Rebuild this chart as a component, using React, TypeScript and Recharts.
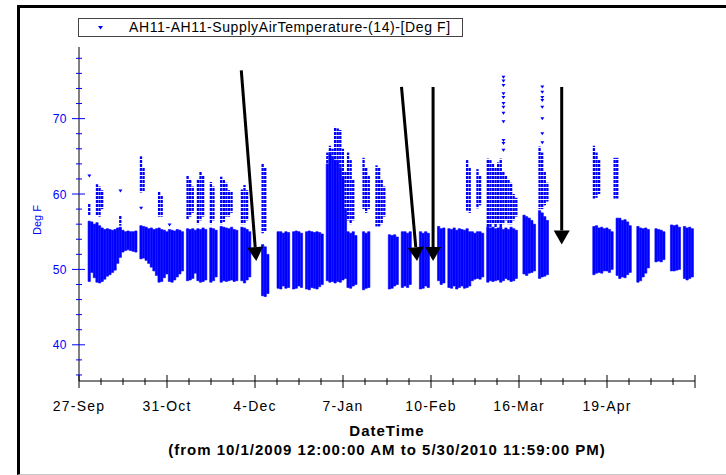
import React from 'react'
import {
  ComposedChart, Bar, Scatter, XAxis, YAxis, ReferenceLine, Legend,
} from 'recharts'

const BLUE = '#0000ff'
const FONT = '"Liberation Sans", Arial, sans-serif'

// x is counted in days from 27-Sep-2009, one label every 34 days
const tickLabels = ['27-Sep', '31-Oct', '4-Dec', '7-Jan', '10-Feb', '16-Mar', '19-Apr']
const X_MAX = 238
const Y_MIN = 35.2
const Y_MAX = 79.5

// daily range of the dense readings, starting 1-Oct (day 4); null = no data that day
const firstDay = 4
const bandLow = [
  48.4, 49.6, 48.9, 48.3, 48.2, 48.4, 48.7, 49.1, 49.3, 49.6,
  49.9, 50.8, 51.6, 52.3, 52.5, 52.6, 52.5, 52.4, 52.3, null,
  51.4, 51.5, 51.2, 50.8, 50.3, 49.8, 49.2, 48.3, 48.4, 48.9,
  49.4, 48.4, 48.3, 48.6, 49.0, 49.4, 49.8, null, 48.5, 48.6,
  48.8, 49.5, 48.5, 48.3, 48.4, 48.6, null, 48.3, 48.5, 49.0,
  null, 48.3, 48.5, 48.4, 48.5, 48.6, 48.4, 48.5, null, 48.5,
  48.2, 48.6, 49.0, null, null, null, null, 46.5, 46.4, 46.8,
  null, null, null, 47.5, 47.4, 47.8, 47.5, 47.6, null, 47.4,
  47.5, 47.8, 47.6, null, 47.4, 47.3, 47.6, 47.5, 47.4, 47.7,
  48.0, null, 48.5, 48.3, 48.4, 48.2, 48.4, 48.3, 48.6, 48.8,
  47.6, 47.5, 47.8, 48.0, null, null, 47.3, 47.5, 47.6, null,
  null, null, null, null, null, null, 47.4, 47.5, 47.8, 48.0,
  null, 47.6, 47.8, 47.6, 48.0, null, null, null, 47.4, 47.5,
  47.8, 47.6, null, null, null, 48.5, 48.0, 48.2, null, 47.6,
  47.5, 47.8, 47.4, 47.6, 47.8, 47.5, 47.6, 47.8, 48.5, 48.7,
  48.8, 48.7, 49.0, null, 48.3, 48.5, 48.4, 48.5, 48.6, 48.3,
  48.5, 48.8, 48.6, 48.4, 48.5, 48.8, null, null, 49.4, 49.2,
  49.5, 49.6, 49.8, null, 48.8, 49.0, 49.1, 49.3, null, null,
  null, null, null, null, null, null, null, null, null, null,
  null, null, null, null, null, 49.3, 49.5, 49.6, 49.5, 49.8,
  49.8, 49.6, 50.0, null, 49.2, 48.8, 49.0, 48.9, 49.3, 49.6,
  null, null, 48.3, 48.5, 49.0, 49.5, 50.2, null, null, 51.0,
  51.1, 51.0, 51.3, null, null, 49.8, 49.8, 49.9, 50.0, null,
  48.8, 48.6, 48.8, 49.0,
]
const bandHigh = [
  56.4, 56.3, 56.0, 56.2, 55.8, 55.5, 55.3, 55.4, 55.3, 55.2,
  55.3, 55.5, 55.6, 55.2, 55.0, 55.1, 55.0, 55.0, 55.1, null,
  55.8, 55.7, 55.6, 55.4, 55.5, 55.3, 55.4, 55.5, 55.3, 55.2,
  55.0, 55.3, 55.2, 55.1, 55.3, 55.2, 55.0, null, 55.4, 55.3,
  55.4, 55.2, 55.4, 55.3, 55.5, 55.3, null, 55.5, 55.4, 55.2,
  null, 55.7, 55.6, 55.5, 55.4, 55.6, 55.3, 55.2, null, 55.6,
  55.5, 55.3, 55.0, null, null, null, null, 53.3, 53.0, 52.0,
  null, null, null, 55.0, 55.0, 54.8, 55.0, 54.9, null, 55.0,
  55.1, 55.0, 54.8, null, 55.0, 55.1, 55.0, 54.9, 55.0, 54.9,
  54.7, null, 64.0, 65.5, 65.0, 64.5, 64.5, 63.5, 62.0, 58.0,
  55.0, 54.8, 55.0, 54.5, null, null, 55.0, 54.8, 55.0, null,
  null, null, null, null, null, null, 54.6, 54.5, 54.6, 54.3,
  null, 55.0, 55.0, 54.8, 55.0, null, null, null, 55.0, 54.8,
  55.0, 54.8, null, null, null, 55.7, 55.4, 55.5, null, 55.4,
  55.3, 55.5, 55.2, 55.4, 55.3, 55.2, 55.4, 55.0, 55.0, 54.8,
  55.0, 55.0, 54.8, null, 55.6, 55.5, 55.6, 55.4, 55.5, 55.6,
  55.3, 55.5, 55.3, 55.6, 55.4, 55.2, null, null, 57.2, 57.0,
  56.8, 56.5, 56.0, null, 57.8, 57.5, 57.0, 56.5, null, null,
  null, null, null, null, null, null, null, null, null, null,
  null, null, null, null, null, 55.7, 55.8, 55.5, 55.6, 55.4,
  55.5, 55.3, 55.0, null, 56.8, 56.8, 56.5, 56.6, 56.3, 55.8,
  null, null, 55.7, 55.5, 55.4, 55.5, 55.3, null, null, 55.4,
  55.3, 55.2, 55.0, null, null, 55.9, 55.8, 55.9, 55.6, null,
  55.7, 55.5, 55.6, 55.4,
]

// sparser upper columns of readings
const streakDays = [
  4, 7, 8, 9, 16, 24, 25, 31, 32, 42, 43, 44, 46, 47, 48, 51, 52, 55, 56, 57,
  58, 59, 63, 64, 65, 71, 72, 96, 97, 98, 99, 100, 101, 102, 103, 104, 105, 106, 110, 111,
  112, 115, 116, 117, 118, 150, 151, 154, 155, 158, 159, 160, 161, 162, 163, 164, 165, 166, 167, 168,
  169, 178, 179, 180, 181, 199, 200, 201, 207, 208,
]
const streakLow = [
  57.2, 57.2, 57.0, 58.0, 55.8, 60.2, 60.4, 57.0, 57.0, 56.6, 57.0, 57.5, 56.0, 56.5, 57.0, 56.0, 56.5, 56.0, 56.3, 57.0,
  57.0, 57.5, 56.0, 56.0, 56.5, 54.8, 55.0, 64.0, 65.5, 65.0, 64.5, 64.5, 63.5, 62.0, 58.0, 56.5, 56.0, 56.5, 58.0, 57.5,
  58.0, 55.7, 55.7, 56.0, 57.0, 57.8, 57.5, 58.1, 58.5, 55.6, 55.6, 56.0, 55.6, 56.0, 55.6, 56.0, 56.5, 56.0, 56.0, 56.5,
  57.0, 58.0, 58.0, 58.5, 59.0, 59.4, 59.5, 60.0, 59.4, 59.4,
]
const streakHigh = [
  58.7, 61.3, 61.0, 60.5, 57.2, 65.0, 63.5, 60.3, 59.8, 62.5, 62.0, 61.0, 62.0, 63.0, 62.5, 61.6, 61.0, 62.3, 62.0, 61.5,
  60.5, 60.3, 60.6, 61.2, 60.5, 64.1, 63.5, 65.5, 66.4, 66.0, 68.9, 68.7, 68.5, 66.0, 63.0, 65.5, 64.5, 62.0, 64.8, 63.5,
  62.5, 63.8, 63.5, 62.0, 61.0, 64.5, 63.5, 63.3, 62.5, 64.7, 64.5, 64.0, 63.5, 64.2, 64.7, 63.0, 62.5, 62.0, 61.5, 60.0,
  59.5, 66.3, 65.5, 63.0, 61.5, 66.4, 65.5, 64.5, 64.8, 64.8,
]

// isolated readings
const outlierDays = [
  4, 16, 24, 35,
  164, 164, 164, 164, 164, 164, 164, 164, 164, 164, 164, 164,
  179, 179, 179, 179, 179, 179, 179, 179,
]
const outlierTemps = [
  62.4, 60.4, 58.1, 55.9,
  75.5, 75.0, 74.4, 73.3, 72.8, 72.0, 71.5, 70.7, 69.6, 67.1, 66.7, 65.8,
  74.2, 73.5, 72.8, 72.4, 71.5, 70.0, 68.0, 66.8,
]

// annotation arrows (day, deg F): start -> tip
const arrowStart = [[62.7, 76.4], [124.6, 74.2], [136.8, 74.2], [186.5, 74.2]]
const arrowTip = [[68.5, 51.1], [130.6, 51.1], [136.8, 51.1], [186.5, 53.3]]

const rows = bandLow.map((lo, i) => {
  const day = firstDay + i
  const hi = bandHigh[i]
  const s = streakDays.indexOf(day)
  return {
    day,
    band: lo != null && hi != null ? [lo, hi] : null,
    streak: s >= 0 ? [streakLow[s], streakHigh[s]] : null,
  }
})
const outliers = outlierDays.map((day, i) => ({ day, temp: outlierTemps[i] }))

const xTicks = Array.from({ length: X_MAX / 8.5 + 1 }, (_, i) => i * 8.5)
const yTicks = Array.from({ length: 22 }, (_, i) => 36 + i * 2)

function BottomTick({ x, y, payload }: any) {
  const major = payload.value % 34 === 0
  const label = major ? tickLabels[payload.value / 34] : undefined
  return (
    <g>
      <line x1={x} x2={x} y1={y - (major ? 6 : 3)} y2={y + (major ? 7 : 4)} stroke="#000" />
      {label && (
        <text x={x} y={y + 30} textAnchor="middle" fontSize={14} letterSpacing={1.2}
          fontFamily={FONT} fill="#000">{label}</text>
      )}
    </g>
  )
}

function TopTick({ x, y, payload }: any) {
  const major = payload.value % 34 === 0
  return <line x1={x} x2={x} y1={y} y2={y + (major ? 6 : 4)} stroke="#000" />
}

function LeftTick({ x, y, payload }: any) {
  const major = payload.value % 10 === 0
  return (
    <g>
      <line x1={x - (major ? 7 : 3)} x2={x + (major ? 6 : 3)} y1={y} y2={y} stroke={BLUE} />
      {major && (
        <text x={x - 12} y={y + 4.5} textAnchor="end" fontSize={12} letterSpacing={0.5}
          fontFamily={FONT} fill={BLUE}>{payload.value}</text>
      )}
    </g>
  )
}

function Marker({ cx, cy }: any) {
  return <polygon points={`${cx - 2},${cy - 1.5} ${cx + 2},${cy - 1.5} ${cx},${cy + 1.5}`} fill={BLUE} />
}

function Arrow({ x1, y1, x2, y2 }: any) {
  const len = Math.hypot(x2 - x1, y2 - y1)
  const ux = (x2 - x1) / len
  const uy = (y2 - y1) / len
  const bx = x2 - ux * 14
  const by = y2 - uy * 14
  const px = -uy * 8
  const py = ux * 8
  return (
    <g>
      <line x1={x1} y1={y1} x2={bx} y2={by} stroke="#000" strokeWidth={3} />
      <polygon points={`${x2},${y2} ${bx + px},${by + py} ${bx - px},${by - py}`} fill="#000" />
    </g>
  )
}

function LegendBox() {
  return (
    <div style={{
      width: 383, height: 17, border: '1px solid #444', position: 'relative',
      fontFamily: FONT, fontSize: 14, letterSpacing: 0.6, background: '#fff',
    }}>
      <svg width={8} height={6} style={{ position: 'absolute', left: 18, top: 6 }}>
        <polygon points="1,1 6,1 3.5,4.5" fill={BLUE} />
      </svg>
      <span style={{ position: 'absolute', left: 50, top: 0, lineHeight: '17px', color: '#000', whiteSpace: 'nowrap' }}>
        AH11-AH11-SupplyAirTemperature-(14)-[Deg F]
      </span>
    </div>
  )
}

function XTitle({ viewBox }: any) {
  const cx = viewBox.x + viewBox.width / 2
  return (
    <g fontFamily={FONT} fontWeight="bold" fontSize={15} letterSpacing={1} fill="#000" textAnchor="middle">
      <text x={cx} y={viewBox.y + 55}>DateTime</text>
      <text x={cx} y={viewBox.y + 74}>(from 10/1/2009 12:00:00 AM to 5/30/2010 11:59:00 PM)</text>
    </g>
  )
}

function YTitle({ viewBox }: any) {
  const cx = viewBox.x + 22
  const cy = viewBox.y + viewBox.height / 2 + 6
  return (
    <text x={cx} y={cy} transform={`rotate(-90 ${cx} ${cy})`} textAnchor="middle"
      fontFamily={FONT} fontSize={11} fill={BLUE}>Deg F</text>
  )
}

export default function App() {
  return (
    <div style={{ position: 'absolute', left: 0, top: 0, width: 726, height: 475, background: '#fff', overflow: 'hidden' }}>
      <div style={{
        position: 'absolute', left: 17, top: 5, right: 0, bottom: 0,
        borderLeft: '3px solid #000', borderTop: '3px solid #000', borderBottom: '1px solid #c8c8c8',
      }} />
      <div style={{ position: 'absolute', left: 0, top: 0 }}>
        <ComposedChart width={726} height={475} data={rows}
          margin={{ top: 47, right: 31, bottom: 34, left: 19 }}>
          <defs>
            <pattern id="streakFill" width="3" height="4" patternUnits="userSpaceOnUse">
              <rect width="3" height="3" fill={BLUE} />
            </pattern>
          </defs>
          <XAxis xAxisId="band" dataKey="day" type="number" domain={[0, X_MAX]} ticks={xTicks}
            interval={0} allowDataOverflow tickSize={0} tickMargin={0} tickLine={false}
            axisLine={{ stroke: '#000' }} height={60} tick={(p: any) => <BottomTick {...p} />}
            label={{ content: (p: any) => <XTitle {...p} /> }} />
          <XAxis xAxisId="streak" dataKey="day" type="number" domain={[0, X_MAX]} hide allowDataOverflow />
          <XAxis xAxisId="top" orientation="top" dataKey="day" type="number" domain={[0, X_MAX]}
            ticks={xTicks} interval={0} allowDataOverflow tickSize={0} tickMargin={0} tickLine={false}
            axisLine={{ stroke: '#000' }} height={0} tick={(p: any) => <TopTick {...p} />} />
          <YAxis yAxisId="left" type="number" domain={[Y_MIN, Y_MAX]} ticks={yTicks} interval={0}
            allowDataOverflow width={60} tickSize={0} tickMargin={0} tickLine={false}
            axisLine={{ stroke: '#000' }} tick={(p: any) => <LeftTick {...p} />}
            label={{ content: (p: any) => <YTitle {...p} /> }} />
          <YAxis yAxisId="right" orientation="right" type="number" domain={[Y_MIN, Y_MAX]}
            width={0} tick={false} tickLine={false} axisLine={{ stroke: '#000' }} />
          <Legend layout="vertical" align="center" verticalAlign="middle"
            wrapperStyle={{ top: 18, left: 78, width: 385, height: 19 }}
            content={() => <LegendBox />} />
          {/* bars slightly wider than one day so neighbouring days join up */}
          <Bar xAxisId="streak" yAxisId="left" dataKey="streak" barSize={3.6}
            fill="url(#streakFill)" isAnimationActive={false} />
          <Bar xAxisId="band" yAxisId="left" dataKey="band" barSize={3.6}
            fill={BLUE} stroke={BLUE} strokeWidth={0.6} isAnimationActive={false} />
          <Scatter xAxisId="band" yAxisId="left" data={outliers} dataKey="temp"
            shape={(p: any) => <Marker {...p} />} isAnimationActive={false} />
          {arrowStart.map((s, i) => (
            <ReferenceLine key={i} xAxisId="band" yAxisId="left" ifOverflow="visible"
              segment={[{ x: s[0], y: s[1] }, { x: arrowTip[i][0], y: arrowTip[i][1] }]}
              shape={(p: any) => <Arrow {...p} />} />
          ))}
        </ComposedChart>
      </div>
    </div>
  )
}
